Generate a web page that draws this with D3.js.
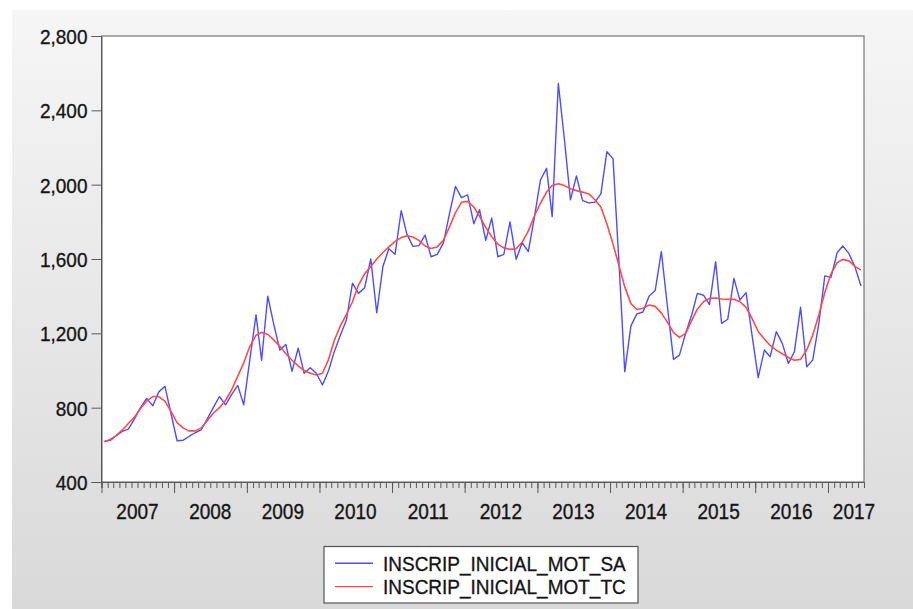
<!DOCTYPE html>
<html>
<head>
<meta charset="utf-8">
<script src="https://cdn.jsdelivr.net/npm/d3@7"></script>
<style>
  html, body { margin: 0; padding: 0; background: #fff; }
  svg { display: block; font-family: "Liberation Sans", Arial, sans-serif; }
  .lbl { fill: #141414; stroke: #141414; stroke-width: 0.3px; }
</style>
</head>
<body>
<svg id="chart"></svg>
<script>
// Monthly series, 2007M01 .. 2017M06
const startMonth = new Date(2007, 0, 1);
const endMonth = new Date(2017, 6, 1);

const seriesSA = [
  620, 625, 650, 672, 685, 740, 800, 850, 810, 885, 915, 770,
  622, 625, 645, 665, 680, 740, 800, 860, 815, 870, 920, 815,
  1060, 1300, 1055, 1400, 1250, 1110, 1140, 995, 1120, 985, 1015, 985,
  922, 1000, 1100, 1190, 1270, 1470, 1415, 1445, 1600, 1310, 1560, 1655,
  1625, 1860, 1735, 1668, 1672, 1728, 1612, 1625, 1685, 1840, 1990, 1930,
  1945, 1790, 1865, 1700, 1820, 1612, 1625, 1800, 1598, 1688, 1640, 1820,
  2025, 2088, 1828, 2545, 2250, 1918, 2047, 1914, 1902, 1905, 1950, 2177,
  2140, 1560, 994, 1240, 1305, 1315, 1400, 1430, 1640, 1350, 1060, 1083,
  1200, 1300, 1415, 1405, 1355, 1586, 1254, 1276, 1496, 1379, 1419, 1190,
  962, 1110, 1074, 1209, 1146, 1038, 1101, 1340, 1020, 1056, 1254, 1509,
  1501, 1634, 1670, 1630, 1559, 1455
];

const seriesTC = [
  615, 630, 650, 680, 715, 750, 795, 835, 860, 860, 835, 780,
  720, 690, 675, 675, 690, 730, 770, 800, 840, 895, 970, 1040,
  1130, 1190, 1205, 1195, 1165, 1130, 1090, 1055, 1025, 1000, 985, 976,
  985, 1060, 1160, 1240, 1300, 1370, 1460, 1520, 1560, 1600, 1635, 1665,
  1695, 1715, 1725, 1718, 1700, 1670, 1657, 1665, 1700, 1770, 1850, 1905,
  1910, 1880, 1830, 1770, 1720, 1680, 1660, 1652, 1655, 1690, 1750, 1830,
  1900, 1960, 1995, 2005, 1995, 1978, 1968, 1960, 1950, 1920, 1880, 1790,
  1680, 1560, 1450, 1360, 1328, 1335, 1352, 1345, 1310, 1260, 1205, 1178,
  1200, 1270, 1330, 1370, 1388, 1390, 1385, 1383, 1383, 1370, 1340, 1280,
  1210, 1170, 1135, 1110, 1090, 1070, 1055, 1060, 1110, 1190, 1300, 1420,
  1520, 1580, 1598, 1590, 1560, 1540
];

const yTicks = [400, 800, 1200, 1600, 2000, 2400, 2800];
const seriesNames = ["INSCRIP_INICIAL_MOT_SA", "INSCRIP_INICIAL_MOT_TC"];
const seriesColors = ["#4d4dff", "#ff4a4a"];

const W = 913, H = 609;
const plot = { left: 101.5, right: 864, top: 36, bottom: 482 };

const svg = d3.select("#chart").attr("width", W).attr("height", H);

// background panel
const defs = svg.append("defs");
const grad = defs.append("linearGradient").attr("id", "bg")
  .attr("x1", 0).attr("y1", 0).attr("x2", 0).attr("y2", 1);
grad.append("stop").attr("offset", "0%").attr("stop-color", "#f6f6f6");
grad.append("stop").attr("offset", "100%").attr("stop-color", "#d9d9d9");

svg.append("rect").attr("x", 12).attr("y", 10)
  .attr("width", W - 12).attr("height", H - 10)
  .attr("fill", "url(#bg)");

const months = d3.timeMonth.range(startMonth, endMonth);
const x = d3.scaleTime().domain([startMonth, endMonth]).range([plot.left, plot.right]);
const y = d3.scaleLinear().domain([400, 2800]).range([plot.bottom, plot.top]);
const midMonth = d => x(d3.timeDay.offset(d, 15));

svg.append("rect")
  .attr("x", plot.left).attr("y", plot.top)
  .attr("width", plot.right - plot.left).attr("height", plot.bottom - plot.top)
  .attr("fill", "#fff").attr("stroke", "#5a5a5a").attr("stroke-width", 1);

// y axis
const yAxis = svg.append("g")
  .attr("transform", "translate(" + plot.left + ",0)")
  .call(d3.axisLeft(y).tickValues(yTicks).tickSize(10).tickPadding(4).tickFormat(d3.format(",")));
yAxis.select(".domain").attr("stroke", "#5a5a5a");
yAxis.selectAll(".tick line").attr("stroke", "#5a5a5a");
yAxis.selectAll(".tick text")
  .attr("class", "lbl")
  .attr("font-size", 19)
  .attr("dy", "0.36em")
  .attr("transform", "scale(1,1.1)")
  .attr("y", 0);

// x axis: monthly minor ticks, yearly major ticks
const xMinor = svg.append("g")
  .attr("transform", "translate(0," + plot.bottom + ")")
  .call(d3.axisBottom(x).ticks(d3.timeMonth.every(1)).tickSize(6).tickFormat(""));
xMinor.select(".domain").attr("stroke", "#5a5a5a");
xMinor.selectAll(".tick line").attr("stroke", "#5a5a5a");

const xMajor = svg.append("g")
  .attr("transform", "translate(0," + plot.bottom + ")")
  .call(d3.axisBottom(x).ticks(d3.timeYear.every(1)).tickSize(11).tickFormat(""));
xMajor.select(".domain").remove();
xMajor.selectAll(".tick line").attr("stroke", "#5a5a5a");

const years = d3.timeYear.range(startMonth, endMonth);
svg.append("g").selectAll("text")
  .data(years)
  .join("text")
  .attr("class", "lbl")
  .attr("x", (d, i) => i === years.length - 1 ? x(endMonth) - 10 : x(d3.timeMonth.offset(d, 6)))
  .attr("y", 0)
  .attr("transform", "translate(0,518.7) scale(1,1.15)")
  .attr("text-anchor", "middle")
  .attr("font-size", 19)
  .text(d => d.getFullYear());

// lines
const line = d3.line()
  .x((d, i) => midMonth(months[i]))
  .y(d => y(d));

svg.append("path").datum(seriesSA)
  .attr("fill", "none").attr("stroke", seriesColors[0]).attr("stroke-width", 1.4)
  .attr("stroke-linejoin", "round")
  .attr("d", line);

svg.append("path").datum(seriesTC)
  .attr("fill", "none").attr("stroke", seriesColors[1]).attr("stroke-width", 1.6)
  .attr("stroke-linejoin", "round")
  .attr("d", line);

// legend
const legend = svg.append("g").attr("transform", "translate(324,546.5)");
legend.append("rect")
  .attr("width", 314).attr("height", 56.5)
  .attr("fill", "#fff").attr("stroke", "#555").attr("stroke-width", 1.2);

const item = legend.selectAll(".item")
  .data(seriesNames)
  .join("g")
  .attr("transform", (d, i) => "translate(0," + (24.2 + i * 23.3) + ")");
item.append("line")
  .attr("x1", 11).attr("x2", 49).attr("y1", -7.4).attr("y2", -7.4)
  .attr("stroke", (d, i) => seriesColors[i]).attr("stroke-width", 1.4);
item.append("text")
  .attr("class", "lbl")
  .attr("x", 59).attr("y", 0)
  .attr("transform", "scale(1,1.08)")
  .attr("font-size", 19)
  .text(d => d);
</script>
</body>
</html>
